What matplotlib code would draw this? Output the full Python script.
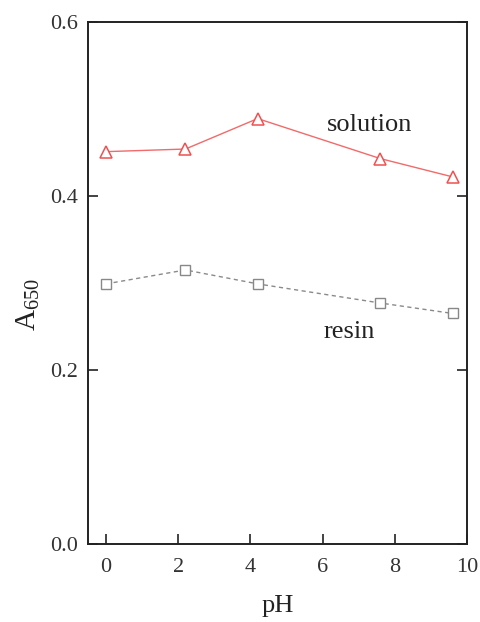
import matplotlib.pyplot as plt

ph_solution = [0, 2.2, 4.2, 7.6, 9.6]
a_solution = [0.451, 0.454, 0.489, 0.443, 0.422]
ph_resin = [0, 2.2, 4.2, 7.6, 9.6]
a_resin = [0.299, 0.315, 0.299, 0.277, 0.265]

plt.rcParams['font.family'] = 'Liberation Serif'
plt.rcParams['mathtext.fontset'] = 'custom'
plt.rcParams['mathtext.rm'] = 'Liberation Serif'
plt.rcParams['mathtext.it'] = 'Liberation Serif:italic'

fig = plt.figure(figsize=(4.8, 6.22), dpi=100)
ax = fig.add_axes([0.1833, 0.1254, 0.7897, 0.8392])

ax.plot(ph_solution, a_solution, color='#f26a6a', linewidth=1.0, marker='^',
        markersize=9, markerfacecolor='white', markeredgecolor='#f05050', markeredgewidth=1.1)
ax.plot(ph_resin, a_resin, color='#8a8a8a', linewidth=1.0, linestyle=(0, (3, 2.5)), marker='s',
        markersize=7, markerfacecolor='white', markeredgecolor='#888888', markeredgewidth=1.0)

ax.text(7.29, 0.482, 'solution', fontsize=19, ha='center', va='center', color='#222222')
ax.text(6.74, 0.244, 'resin', fontsize=19, ha='center', va='center', color='#222222')

ax.set_xlim(-0.5, 10)
ax.set_ylim(0, 0.6)
ax.set_xticks([0, 2, 4, 6, 8, 10])
ax.set_yticks([0.0, 0.2, 0.4, 0.6])
ax.set_yticklabels(['0.0', '0.2', '0.4', '0.6'])
ax.tick_params(axis='both', direction='in', labelsize=16, length=7, width=1.2,
               colors='#222222', labelcolor='#333333')
ax.tick_params(axis='x', pad=10)
ax.tick_params(axis='y', right=True, pad=7)
for s in ax.spines.values():
    s.set_linewidth(1.4)
    s.set_color('#222222')

ax.set_xlabel('pH', fontsize=19, color='#222222')
ax.xaxis.set_label_coords(0.5, -0.098)
ax.set_ylabel('A$_{650}$', fontsize=21, color='#222222')
ax.yaxis.set_label_coords(-0.121, 0.458)

fig.savefig('out.png', dpi=100)
